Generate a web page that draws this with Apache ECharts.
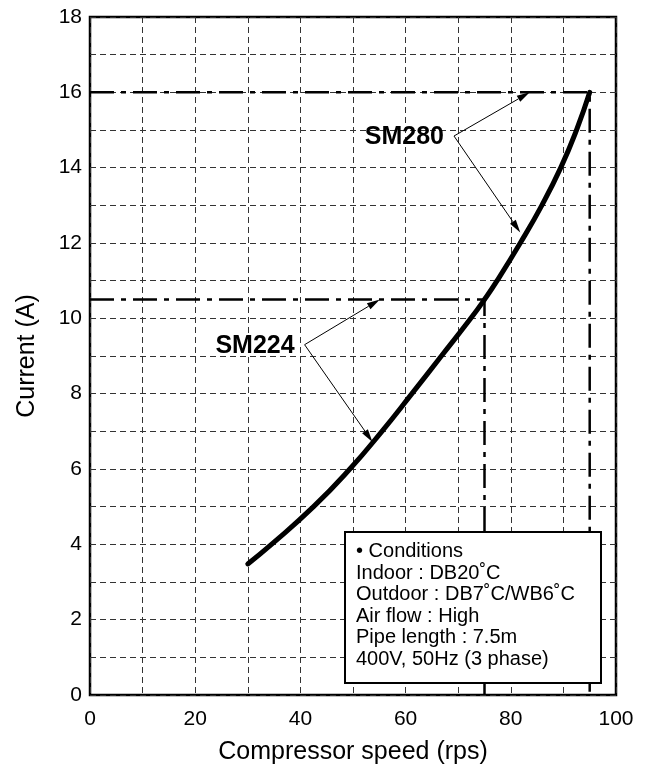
<!DOCTYPE html>
<html>
<head>
<meta charset="utf-8">
<script src="https://cdn.jsdelivr.net/npm/echarts@6/dist/echarts.min.js"></script>
<style>
    html, body { margin: 0; padding: 0; background: #fff; }
    #chart { width: 652px; height: 766px; }
</style>
</head>
<body>
<div id="chart"></div>
<script>
    // curve (compressor speed vs current)
    var speed   = [30, 34.5, 42.5, 49.4, 55.5, 61.2, 66.8, 72.4, 75, 77.4, 81.8, 85.9, 89.5, 92.5, 95];
    var current = [3.48, 4, 5, 6, 7, 8, 9, 10, 10.5, 11, 12, 13, 14, 15, 16];

    // dash-dot reference lines
    var refSM280 = [[0, 16], [95, 16], [95, 0]];
    var refSM224 = [[0, 10.5], [75, 10.5], [75, 0]];

    // annotation arrows: [fromX, fromY, toX, toY]
    var arrows = [
        [69.2, 14.84, 83.6, 16.0],
        [69.2, 14.84, 81.8, 12.28],
        [40.8, 9.30, 55.1, 10.5],
        [40.8, 9.30, 53.7, 6.72]
    ];
    var labelNames = ['SM280', 'SM224'];
    var labelAnchors = [[69.2, 14.84], [40.8, 9.30]];

    var xTickLabels = [0, 20, 40, 60, 80, 100];
    var yTickLabels = [0, 2, 4, 6, 8, 10, 12, 14, 16, 18];

    var conditions = [
        '\u2022 Conditions',
        'Indoor : DB20\u02DAC',
        'Outdoor : DB7\u02DAC/WB6\u02DAC',
        'Air flow : High',
        'Pipe length : 7.5m',
        '400V, 50Hz (3 phase)'
    ];

    var curveData = speed.map(function (s, i) { return [s, current[i]]; });

    var font = 'Liberation Sans, Arial, Helvetica, sans-serif';
    var gridLine = { show: true, lineStyle: { color: '#333', width: 1, type: [6, 4] } };
    var dashDot = { color: '#000', width: 2.5, type: [24, 7, 5, 7] };

    var myChart = echarts.init(document.getElementById('chart'));
    var option = {
        backgroundColor: '#fff',
        animation: false,
        grid: {
            left: 90, right: 36, top: 17, bottom: 71,
            outerBoundsMode: 'none', containLabel: false,
            show: true, borderColor: '#000', borderWidth: 2.5, backgroundColor: 'transparent'
        },
        xAxis: {
            type: 'value', min: 0, max: 100, interval: 10,
            name: 'Compressor speed (rps)', nameLocation: 'middle', nameGap: 45,
            nameTextStyle: { fontFamily: font, fontSize: 25, color: '#000' },
            axisLine: { show: false },
            axisTick: { show: false },
            axisLabel: {
                margin: 14, fontFamily: font, fontSize: 21, color: '#000',
                formatter: function (v) { return xTickLabels.indexOf(v) >= 0 ? String(v) : ''; }
            },
            splitLine: gridLine
        },
        yAxis: {
            type: 'value', min: 0, max: 18, interval: 1,
            name: 'Current (A)', nameLocation: 'middle', nameGap: 50, nameRotate: 90,
            nameTextStyle: { fontFamily: font, fontSize: 25, color: '#000' },
            axisLine: { show: false },
            axisTick: { show: false },
            axisLabel: {
                margin: 8, fontFamily: font, fontSize: 21, color: '#000',
                formatter: function (v) { return yTickLabels.indexOf(v) >= 0 ? String(v) : ''; }
            },
            splitLine: gridLine
        },
        series: [
            {
                type: 'line', data: refSM280, showSymbol: false, z: 3,
                lineStyle: dashDot
            },
            {
                type: 'line', data: refSM224, showSymbol: false, z: 3,
                lineStyle: dashDot
            },
            {
                type: 'line', data: curveData, showSymbol: false, smooth: 0.5, z: 4,
                lineStyle: { color: '#000', width: 5, cap: 'round' }
            },
            {
                type: 'custom', data: arrows, z: 5,
                renderItem: function (params, api) {
                    var p0 = api.coord([api.value(0), api.value(1)]);
                    var p1 = api.coord([api.value(2), api.value(3)]);
                    var dx = p1[0] - p0[0], dy = p1[1] - p0[1];
                    var len = Math.sqrt(dx * dx + dy * dy);
                    var ux = dx / len, uy = dy / len;
                    var hl = 13, hw = 3.5;
                    var bx = p1[0] - ux * hl, by = p1[1] - uy * hl;
                    return {
                        type: 'group',
                        children: [
                            { type: 'line', shape: { x1: p0[0], y1: p0[1], x2: bx, y2: by },
                              style: { stroke: '#000', lineWidth: 1 } },
                            { type: 'polygon',
                              shape: { points: [[p1[0], p1[1]], [bx - uy * hw, by + ux * hw], [bx + uy * hw, by - ux * hw]] },
                              style: { fill: '#000' } }
                        ]
                    };
                }
            },
            {
                type: 'custom', data: labelAnchors, z: 5,
                renderItem: function (params, api) {
                    var p = api.coord([api.value(0), api.value(1)]);
                    return {
                        type: 'text',
                        x: p[0] - 10, y: p[1] + 1,
                        style: {
                            text: labelNames[params.dataIndex],
                            fill: '#000', font: 'bold 25px ' + font,
                            align: 'right', verticalAlign: 'middle'
                        }
                    };
                }
            }
        ],
        graphic: [
            {
                type: 'rect', left: 344, top: 531, z: 100,
                shape: { width: 256, height: 151 },
                style: { fill: '#fff', stroke: '#000', lineWidth: 2 }
            },
            {
                type: 'text', left: 356, top: 541, z: 101,
                style: { text: conditions.join('\n'), fill: '#000', font: '20px ' + font,
                         lineHeight: 21.5 }
            }
        ]
    };
    myChart.setOption(option);
</script>
</body>
</html>
